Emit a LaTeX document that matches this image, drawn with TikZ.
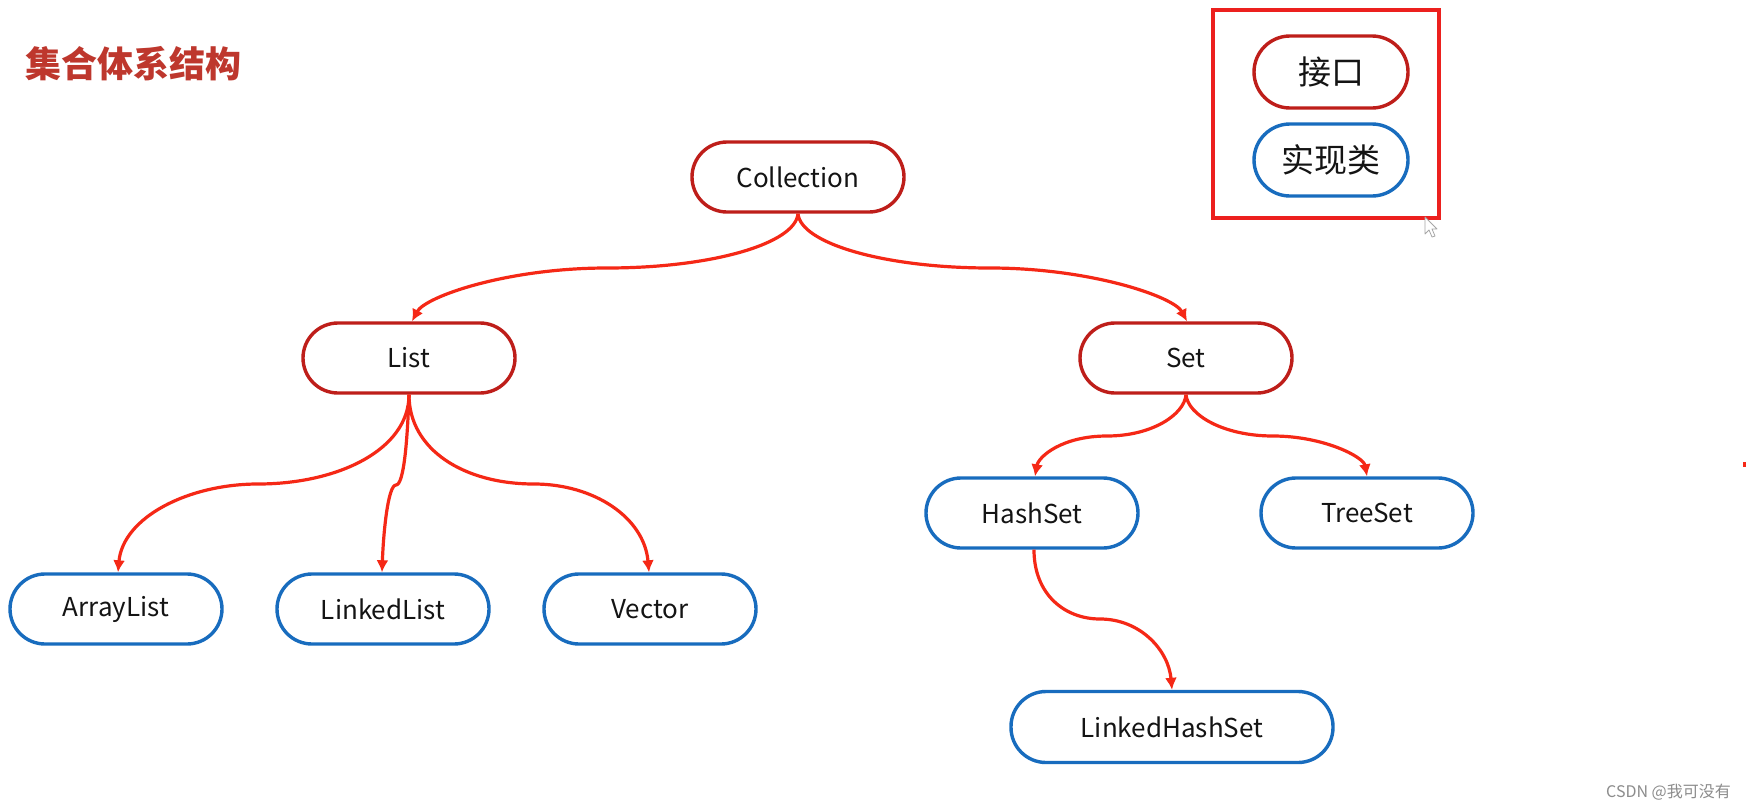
\documentclass[tikz,border=0pt]{standalone}
\usepackage{fontspec}
\setmainfont{Noto Sans CJK SC}
\usetikzlibrary{arrows.meta}
\definecolor{ifc}{RGB}{190,30,26}
\definecolor{implc}{RGB}{24,108,190}
\definecolor{arrowc}{RGB}{245,40,22}
\definecolor{legendc}{RGB}{236,32,30}
\definecolor{titlec}{RGB}{190,55,45}
\definecolor{txt}{RGB}{20,20,20}
\begin{document}
\begin{tikzpicture}[x=1pt,y=1pt,
  base/.style={rectangle, rounded corners=35pt, line width=3.4pt, minimum width=212pt, minimum height=70pt, inner sep=0pt, font=\fontsize{26}{30}\selectfont, text=txt, fill=white},
  iface/.style={base, draw=ifc},
  impl/.style={base, draw=implc},
  legpill/.style={base, minimum width=154pt, minimum height=72pt, rounded corners=36pt, font=\fontsize{33}{38}\selectfont},
  conn/.style={draw=arrowc, line width=3.2pt, line join=round, -{Latex[length=12pt,width=12pt]}},
]
\useasboundingbox (0,0) rectangle (1746,-809);
\fill[white] (0,0) rectangle (1746,-809);

% title
\node[anchor=west, text=titlec, font=\fontsize{36}{40}\selectfont\bfseries, inner sep=0pt] (title) at (25,-64) {集合体系结构};

% legend
\node[draw=legendc, line width=3.5pt, minimum width=226pt, minimum height=208pt, inner sep=0pt] (legend) at (1326,-114) {};
\node[legpill, draw=ifc] (legi) at (1331,-72) {接口};
\node[legpill, draw=implc] (legc) at (1331,-160) {实现类};

% cursor
\draw[gray!70, fill=white, line width=0.8pt, line join=round] (1425,-217) -- (1425,-234) -- (1429,-230) -- (1432,-237) -- (1435,-236) -- (1432,-229) -- (1437,-229) -- cycle;

% nodes
\node[iface] (coll) at (798,-177) {Collection};
\node[iface] (list) at (409,-358) {List};
\node[iface] (set) at (1186,-358) {Set};
\node[impl] (arr) at (116,-609) {ArrayList};
\node[impl] (ll) at (383,-609) {LinkedList};
\node[impl] (vec) at (650,-609) {Vector};
\node[impl] (hs) at (1032,-513) {HashSet};
\node[impl] (ts) at (1367,-513) {TreeSet};
\node[impl, minimum width=322pt, minimum height=71pt] (lhs) at (1172,-727) {LinkedHashSet};

% mid points of the connectors
\coordinate (mcl) at (607,-268);
\coordinate (mcs) at (990,-268);
\coordinate (mla) at (258,-484);
\coordinate (mll) at (396,-485);
\coordinate (mlv) at (534,-484);
\coordinate (msh) at (1107,-436);
\coordinate (mst) at (1273,-436);
\coordinate (mhl) at (1100,-619);

% connectors
\draw[conn] (coll.south) to[out=-95,in=0,out distance=30pt,in distance=105pt] (mcl)
  to[out=180,in=62,out distance=100pt,in distance=28pt] ([xshift=3pt]list.north);
\draw[conn] (coll.south) to[out=-85,in=180,out distance=30pt,in distance=105pt] (mcs)
  to[out=0,in=118,out distance=100pt,in distance=28pt] ([xshift=1pt]set.north);
\draw[conn] (list.south) to[out=-90,in=0,out distance=55pt,in distance=80pt] (mla)
  to[out=180,in=85,out distance=70pt,in distance=55pt] ([xshift=2pt]arr.north);
\draw[conn] (list.south) to[out=-92,in=0,out distance=45pt,in distance=8pt] (mll)
  to[out=180,in=88,out distance=8pt,in distance=40pt] ([xshift=-1pt]ll.north);
\draw[conn] (list.south) to[out=-90,in=180,out distance=55pt,in distance=70pt] (mlv)
  to[out=0,in=95,out distance=60pt,in distance=55pt] ([xshift=-1pt]vec.north);
\draw[conn] (set.south) to[out=-95,in=0,out distance=20pt,in distance=45pt] (msh)
  to[out=180,in=80,out distance=45pt,in distance=20pt] ([xshift=3pt]hs.north);
\draw[conn] (set.south) to[out=-85,in=180,out distance=20pt,in distance=50pt] (mst)
  to[out=0,in=100,out distance=50pt,in distance=20pt] (ts.north);
\draw[conn] ([xshift=2pt]hs.south) to[out=-90,in=180,out distance=45pt,in distance=35pt] (mhl)
  to[out=0,in=95,out distance=40pt,in distance=40pt] (lhs.north);

% watermark and edge mark
\node[anchor=east, text=black!45, font=\fontsize{16}{18}\selectfont, inner sep=0pt] (wm) at (1731,-792) {CSDN @我可没有};
\fill[arrowc] (1743,-462) rectangle (1746,-467);
\end{tikzpicture}
\end{document}
